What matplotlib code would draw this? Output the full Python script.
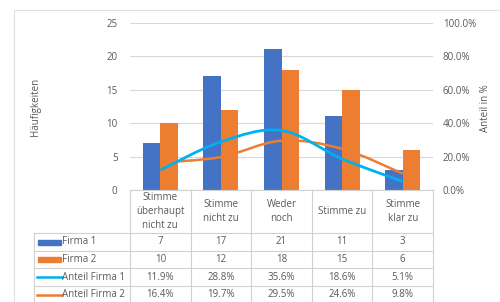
import matplotlib.pyplot as plt
from matplotlib.path import Path
from matplotlib.patches import PathPatch, Rectangle
from matplotlib.lines import Line2D

# data
categories = ["Stimme\nüberhaupt\nnicht zu", "Stimme\nnicht zu", "Weder\nnoch", "Stimme zu", "Stimme\nklar zu"]
firma1 = [7, 17, 21, 11, 3]
firma2 = [10, 12, 18, 15, 6]
anteil1 = [0.119, 0.288, 0.356, 0.186, 0.051]
anteil2 = [0.164, 0.197, 0.295, 0.246, 0.098]

blue = "#4472C4"
orange = "#ED7D31"
cyan = "#00B0F0"
txt = "#595959"
grid = "#D9D9D9"

plt.rcParams['font.family'] = ['Open Sans', 'DejaVu Sans']
plt.rcParams['font.size'] = 7

W, H = 500, 302
fig = plt.figure(figsize=(W / 100, H / 100), dpi=100)


def fx(px):
    return px / W


def fy(py):
    return 1 - py / H


# plot area in pixels
x0, x1 = 130, 433
ytop, ybot = 22.7, 190
ax = fig.add_axes([x0 / W, 1 - ybot / H, (x1 - x0) / W, (ybot - ytop) / H])
ax2 = ax.twinx()

n = len(categories)
xs = list(range(n))
bw = 0.29
ax.bar([x - bw / 2 for x in xs], firma1, bw, color=blue, zorder=2)
ax.bar([x + bw / 2 for x in xs], firma2, bw, color=orange, zorder=2)
ax.set_xlim(-0.5, n - 0.5)
ax.set_ylim(0, 25)
ax.set_yticks([0, 5, 10, 15, 20, 25])
ax.yaxis.grid(True, color=grid, lw=0.8, zorder=0)
ax.set_axisbelow(True)
ax.set_xticks([])
for a in (ax, ax2):
    for s in a.spines.values():
        s.set_visible(False)
    a.tick_params(length=0, colors=txt, labelsize=7)
ax.tick_params(axis='y', pad=9)

ax2.set_ylim(0, 1.0)
ax2.set_yticks([0, 0.2, 0.4, 0.6, 0.8, 1.0])
ax2.set_yticklabels([f"{v * 100:.1f}%" for v in ax2.get_yticks()])
ax2.tick_params(axis='y', pad=7)

fig.text(fx(36), fy(107), "Häufigkeiten", rotation=90, ha='center', va='center', color=txt, fontsize=7)
fig.text(fx(486), fy(108), "Anteil in %", rotation=90, ha='center', va='center', color=txt, fontsize=7)


def smooth_path(xv, yv):
    pts = list(zip(xv, yv))
    verts = [pts[0]]
    codes = [Path.MOVETO]
    for i in range(len(pts) - 1):
        p0 = pts[i - 1] if i > 0 else pts[i]
        p1 = pts[i]
        p2 = pts[i + 1]
        p3 = pts[i + 2] if i + 2 < len(pts) else pts[i + 1]
        c1 = (p1[0] + (p2[0] - p0[0]) / 6, p1[1] + (p2[1] - p0[1]) / 6)
        c2 = (p2[0] - (p3[0] - p1[0]) / 6, p2[1] - (p3[1] - p1[1]) / 6)
        verts += [c1, c2, p2]
        codes += [Path.CURVE4] * 3
    return Path(verts, codes)


ax2.add_patch(PathPatch(smooth_path(xs, anteil2), fill=False, ec=orange, lw=1.8, zorder=3))
ax2.add_patch(PathPatch(smooth_path(xs, anteil1), fill=False, ec=cyan, lw=2.0, zorder=4))

# chart border
fig.patches.append(Rectangle((fx(14), -0.1), 1, fy(10) + 0.1, transform=fig.transFigure,
                             fill=False, ec="#E0E0E0", lw=0.8))

# data table
colw = (x1 - x0) / n
col_x = [x0 + i * colw for i in range(n + 1)]
rows_y = [190, 233, 251, 268, 286, 303]
lx = 34
tc = "#D0D0D0"


def hline(xa, xb, y):
    fig.add_artist(Line2D([fx(xa), fx(xb)], [fy(y), fy(y)], color=tc, lw=0.8))


def vline(x, ya, yb):
    fig.add_artist(Line2D([fx(x), fx(x)], [fy(ya), fy(yb)], color=tc, lw=0.8))


hline(x0, x1, rows_y[0])
for y in rows_y[1:]:
    hline(lx, x1, y)
for x in col_x:
    vline(x, rows_y[0], rows_y[-1])
vline(lx, rows_y[1], rows_y[-1])

for i, c in enumerate(categories):
    fig.text(fx(col_x[i] + colw / 2), fy((rows_y[0] + rows_y[1]) / 2), c, ha='center', va='center',
             color=txt, fontsize=7, linespacing=1.35)

row_vals = [
    [str(v) for v in firma1],
    [str(v) for v in firma2],
    [f"{v * 100:.1f}%" for v in anteil1],
    [f"{v * 100:.1f}%" for v in anteil2],
]
row_names = ["Firma 1", "Firma 2", "Anteil Firma 1", "Anteil Firma 2"]
row_colors = [blue, orange, cyan, orange]
for r in range(4):
    yc = (rows_y[r + 1] + rows_y[r + 2]) / 2
    for i, v in enumerate(row_vals[r]):
        fig.text(fx(col_x[i] + colw / 2), fy(yc), v, ha='center', va='center', color=txt, fontsize=7)
    if r < 2:
        fig.patches.append(Rectangle((fx(38), fy(yc + 2.5)), fx(23), 5 / H, transform=fig.transFigure,
                                     color=row_colors[r]))
    else:
        fig.add_artist(Line2D([fx(37), fx(62)], [fy(yc), fy(yc)], color=row_colors[r], lw=1.8))
    fig.text(fx(62), fy(yc), row_names[r], ha='left', va='center', color=txt, fontsize=7)

fig.savefig("out.png", dpi=100)
